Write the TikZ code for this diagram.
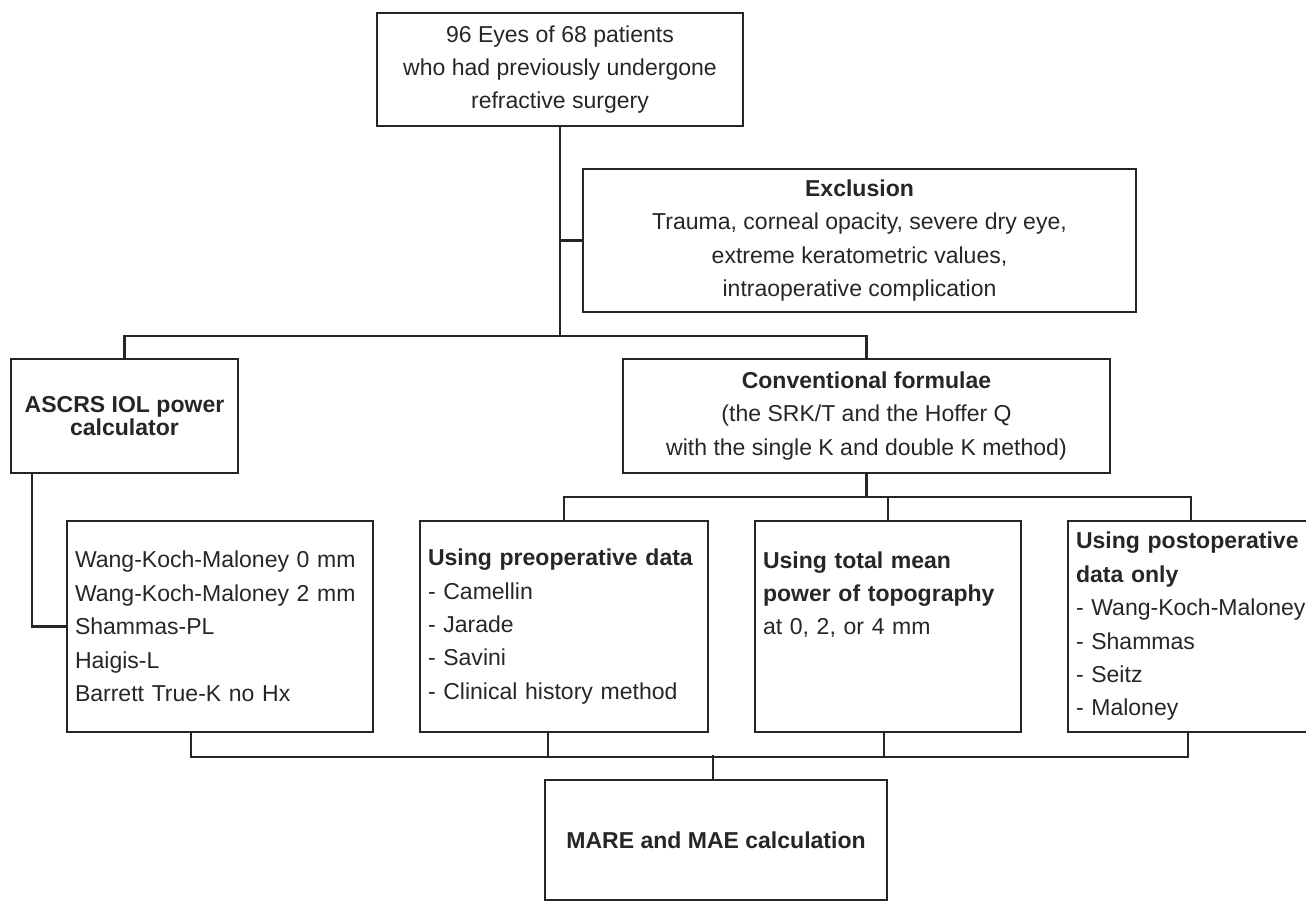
\documentclass[tikz,border=0pt]{standalone}
\usepackage{fontspec}
\setmainfont{Liberation Sans}
\usepackage{tikz}
\usetikzlibrary{calc, positioning}
\tikzset{
  box/.style = {draw=black!85, line width=1.3pt, text=black!85, inner sep=0pt, align=center, font=\fontsize{13.1}{19}\selectfont},
  listbox/.style = {box, align=left, inner xsep=0.16cm, minimum height=4.22cm},
  link/.style = {draw=black!85, line width=1.3pt},
}

\begin{document}
\begin{tikzpicture}
  \useasboundingbox (0,0) rectangle (26.12,-18.02);

  % study population and exclusion
  \node[box, minimum width=7.32cm, minimum height=2.26cm] (eyes) at (11.20,-1.39)
    {96 Eyes of 68 patients\\who had previously undergone\\refractive surgery};
  \node[box, minimum width=11.06cm, minimum height=2.86cm] (excl) at (17.19,-4.81)
    {\textbf{Exclusion}\\Trauma, corneal opacity, severe dry eye,\\extreme keratometric values,\\intraoperative complication};

  % the two groups of methods
  \node[box, minimum width=4.54cm, minimum height=2.28cm, font=\fontsize{13.1}{13.1}\selectfont\bfseries] (ascrs) at (2.49,-8.32)
    {ASCRS IOL power\\calculator};
  \node[box, minimum width=9.74cm, minimum height=2.28cm] (conv) at (17.33,-8.32)
    {\textbf{Conventional formulae}\\(the SRK/T and the Hoffer Q\\with the single K and double K method)};

  % formulae
  \node[listbox, text width=5.80cm] (ascrslist) at (4.40,-12.53)
    {Wang-Koch-Maloney 0 mm\\Wang-Koch-Maloney 2 mm\\Shammas-PL\\Haigis-L\\Barrett True-K no Hx};
  \node[listbox, text width=5.44cm] (preop) at (11.28,-12.53)
    {\textbf{Using preoperative data}\\- Camellin\\- Jarade\\- Savini\\- Clinical history method};
  \node[listbox, text width=5.00cm] (topo) at (17.76,-12.53)
    {\textbf{Using total mean}\\\textbf{power of topography}\\at 0, 2, or 4 mm\\~\\~};
  \node[listbox, text width=5.00cm] (postop) at (24.02,-12.53)
    {\textbf{Using postoperative}\\\textbf{data only}\\- Wang-Koch-Maloney\\- Shammas\\- Seitz\\- Maloney};

  \node[box, minimum width=6.84cm, minimum height=2.40cm, font=\fontsize{13.1}{19}\selectfont\bfseries] (mare) at (14.32,-16.80)
    {MARE and MAE calculation};

  % connectors
  \coordinate (busA) at (0,-6.72);
  \coordinate (busB) at (0,-9.94);
  \draw[link] (eyes.south) -- (eyes.south |- busA);
  \draw[link] (excl.west) -- (excl.west -| eyes.south);
  \draw[link] (ascrs.north) |- (busA -| conv.north) -- (conv.north);
  \draw[link] ([xshift=0.44cm]ascrs.south west) |- (ascrslist.west);
  \draw[link] (conv.south) -- (conv.south |- busB);
  \draw[link] (preop.north) -- (preop.north |- busB) -| ([xshift=-0.20cm]postop.north);
  \draw[link] (topo.north) -- (topo.north |- busB);

  \draw[link] ([xshift=-0.58cm]ascrslist.south) -- ++(0,-0.48) -| ([xshift=-0.26cm]postop.south);
  \draw[link] ([xshift=-0.32cm]preop.south) -- ++(0,-0.48);
  \draw[link] ([xshift=-0.08cm]topo.south) -- ++(0,-0.48);
  \draw[link] ([xshift=-0.06cm]mare.north) -- ++(0,0.48);
\end{tikzpicture}
\end{document}
